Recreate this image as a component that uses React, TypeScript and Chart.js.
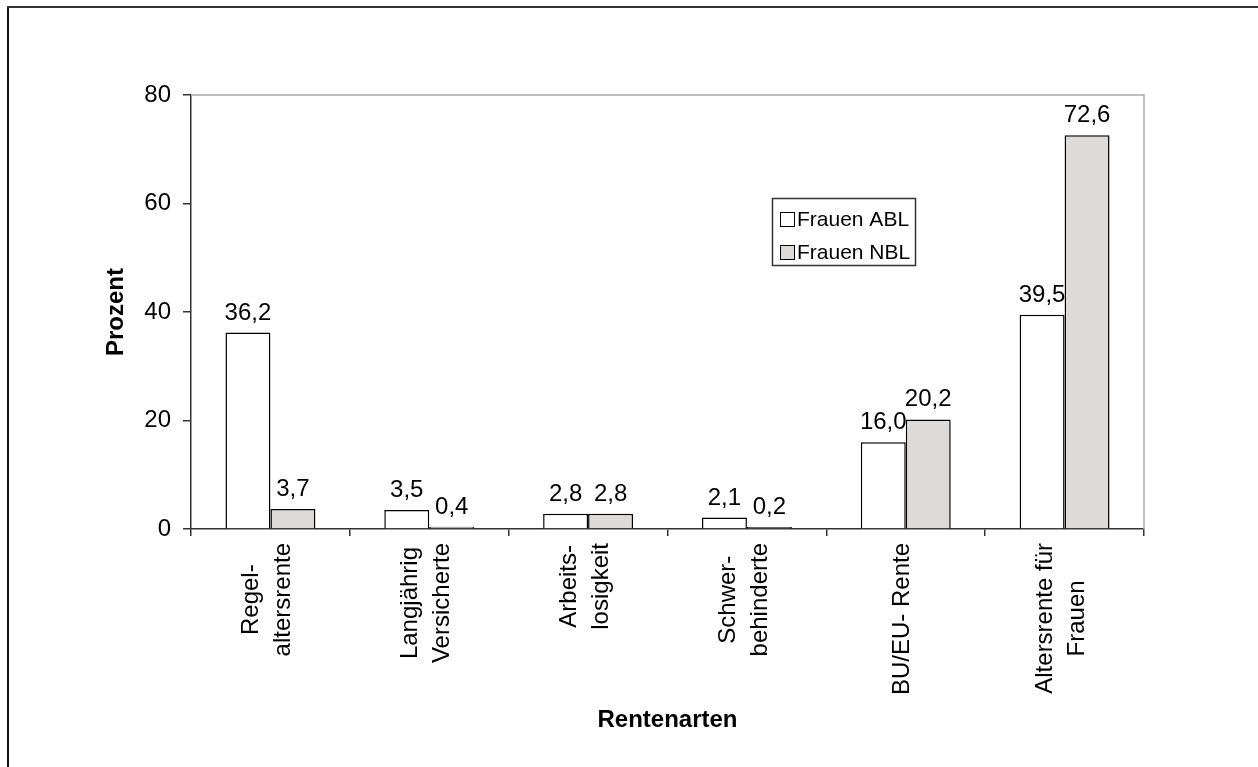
import React, { useEffect, useRef } from "react";
import { Chart, registerables } from "chart.js";

Chart.register(...registerables);

const categories: string[][] = [
  ["Regel-", "altersrente"],
  ["Langjährig", "Versicherte"],
  ["Arbeits-", "losigkeit"],
  ["Schwer-", "behinderte"],
  ["BU/EU- Rente"],
  ["Altersrente für", "Frauen"],
];
const seriesNames = ["Frauen ABL", "Frauen NBL"];
const ablValues = [36.2, 3.5, 2.8, 2.1, 16.0, 39.5];
const nblValues = [3.7, 0.4, 2.8, 0.2, 20.2, 72.6];
const yTicks = [0, 20, 40, 60, 80];
const yTitle = "Prozent";
const xTitle = "Rentenarten";

const FONT = "'Liberation Sans', Arial, Helvetica, sans-serif";
const COLORS = ["#ffffff", "#dedad7"];

const fmt = (v: number) => v.toFixed(1).replace(".", ",");

const framePlugin = {
  id: "frame",
  beforeDraw(chart: any) {
    const ctx = chart.ctx;
    ctx.save();
    ctx.fillStyle = "#ffffff";
    ctx.fillRect(0, 0, chart.width, chart.height);
    ctx.fillStyle = "#111111";
    ctx.fillRect(7, 6, 2, chart.height);
    ctx.fillStyle = "#333333";
    ctx.fillRect(7, 6, chart.width - 7, 2);
    ctx.restore();
  },
  afterDraw(chart: any) {
    const ctx = chart.ctx;
    const a = chart.chartArea;
    ctx.save();
    // plot area border (top & right)
    ctx.strokeStyle = "#a9a9a9";
    ctx.lineWidth = 1.5;
    ctx.beginPath();
    ctx.moveTo(a.left, a.top);
    ctx.lineTo(a.right, a.top);
    ctx.lineTo(a.right, a.bottom);
    ctx.stroke();

    // value labels
    ctx.fillStyle = "#000";
    ctx.font = `24px ${FONT}`;
    ctx.textAlign = "center";
    ctx.textBaseline = "alphabetic";
    chart.data.datasets.forEach((ds: any, di: number) => {
      const meta = chart.getDatasetMeta(di);
      meta.data.forEach((el: any, i: number) => {
        ctx.fillText(fmt(ds.data[i]), el.x, el.y - 13);
      });
    });

    // category labels (rotated, centered lines)
    const xs = chart.scales.x;
    ctx.textAlign = "center";
    ctx.textBaseline = "middle";
    const lineH = 32;
    categories.forEach((lines, i) => {
      const x = xs.getPixelForValue(i);
      const maxW = Math.max(...lines.map((l) => ctx.measureText(l).width));
      ctx.save();
      ctx.translate(x - 3, a.bottom + 14);
      ctx.rotate(-Math.PI / 2);
      lines.forEach((l, j) => {
        const off = (j - (lines.length - 1) / 2) * lineH;
        ctx.fillText(l, -maxW / 2, off);
      });
      ctx.restore();
    });

    // legend
    ctx.strokeStyle = "#333";
    ctx.lineWidth = 1.5;
    ctx.strokeRect(772.5, 198.5, 143, 67);
    ctx.font = `21px ${FONT}`;
    ctx.textAlign = "left";
    ctx.textBaseline = "middle";
    seriesNames.forEach((name, i) => {
      const y = 212 + i * 33;
      ctx.fillStyle = COLORS[i];
      ctx.fillRect(780.5, y + 0.5, 14, 14);
      ctx.strokeStyle = "#000";
      ctx.lineWidth = 1;
      ctx.strokeRect(780.5, y + 0.5, 14, 14);
      ctx.fillStyle = "#000";
      ctx.fillText(name, 797, y + 8);
    });
    ctx.restore();
  },
};

export default function App() {
  const ref = useRef<HTMLCanvasElement | null>(null);
  useEffect(() => {
    if (!ref.current) return;
    const chart = new Chart(ref.current, {
      type: "bar",
      data: {
        labels: categories.map((c) => c.join(" ")),
        datasets: [
          {
            label: seriesNames[0],
            data: ablValues,
            backgroundColor: COLORS[0],
            borderColor: "#000",
            borderWidth: 1.5,
            minBarLength: 2,
          },
          {
            label: seriesNames[1],
            data: nblValues,
            backgroundColor: COLORS[1],
            borderColor: "#000",
            borderWidth: 1.5,
            minBarLength: 2,
          },
        ],
      },
      options: {
        responsive: false,
        animation: false,
        layout: { padding: { top: 95, right: 114, left: 0, bottom: 0 } },
        datasets: {
          bar: { categoryPercentage: 90 / 159, barPercentage: 1 },
        },
        plugins: {
          legend: { display: false },
          tooltip: { enabled: false },
        },
        scales: {
          x: {
            type: "category",
            grid: {
              display: true,
              drawOnChartArea: false,
              drawTicks: true,
              tickLength: 7,
              color: "#333",
              lineWidth: 1.5,
              offset: true,
            },
            border: { display: true, color: "#333", width: 1.5 },
            ticks: { display: false },
            title: {
              display: true,
              text: xTitle,
              color: "#000",
              font: { family: FONT, size: 24, weight: "bold" },
              padding: { top: 0, bottom: 32 },
            },
            afterFit: (s: any) => {
              s.height = 238;
            },
          },
          y: {
            min: 0,
            max: 80,
            afterBuildTicks: (s: any) => {
              s.ticks = yTicks.map((v) => ({ value: v }));
            },
            grid: {
              display: true,
              drawOnChartArea: false,
              drawTicks: true,
              tickLength: 8,
              color: "#333",
              lineWidth: 1.5,
            },
            border: { display: true, color: "#333", width: 1.5 },
            ticks: {
              color: "#000",
              padding: 12,
              font: { family: FONT, size: 24 },
              callback: (v: any) => String(v),
            },
            title: {
              display: true,
              text: yTitle,
              color: "#000",
              font: { family: FONT, size: 24, weight: "bold" },
              padding: { top: 102, bottom: 0 },
            },
            afterFit: (s: any) => {
              s.width = 191;
            },
          },
        },
      },
      plugins: [framePlugin],
    });
    return () => chart.destroy();
  }, []);
  return (
    <div
      style={{
        position: "fixed",
        left: 0,
        top: 0,
        width: 1258,
        height: 767,
        background: "#fff",
      }}
    >
      <canvas ref={ref} width={1258} height={767} style={{ width: 1258, height: 767, display: "block" }} />
    </div>
  );
}
